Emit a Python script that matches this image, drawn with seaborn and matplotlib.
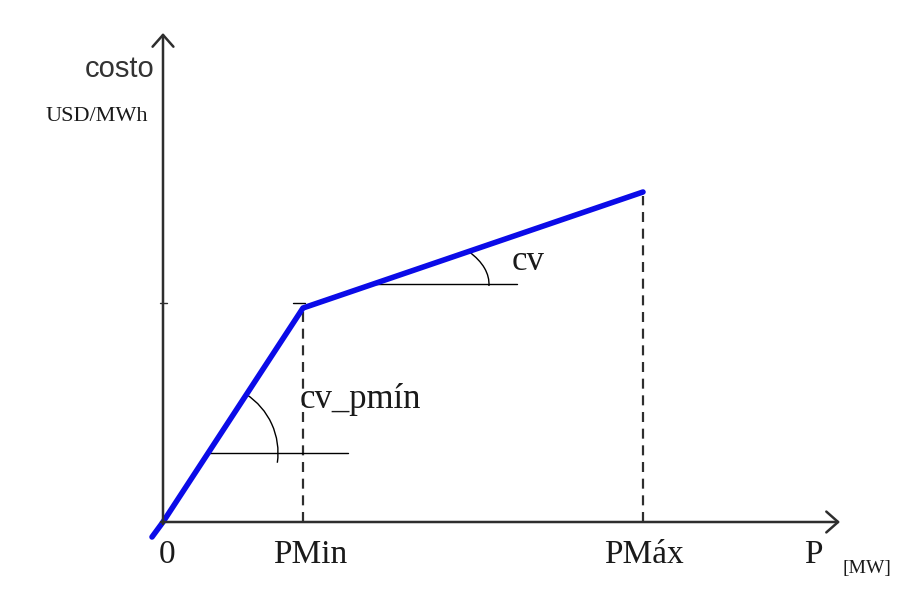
import matplotlib
matplotlib.use("Agg")
import matplotlib.pyplot as plt
from matplotlib.patches import Arc
import seaborn as sns
import pandas as pd

# curva de costo por tramos (unidades del dibujo, origen en el cruce de ejes)
potencia = [-11, 0, 140, 480]
costo = [-15, 0, 214, 330]
p_min = 140
p_max = 480
costo_pmin = 214
costo_pmax = 330

etiquetas_x = ["0", "PMin", "PMáx", "P"]
pos_etiquetas_x = [4, 147, 481, 650]

AZUL = "#0b0be8"
GRIS = "#2e2e2e"
TEXTO = "#1a1a1a"
SERIF = "Liberation Serif"


def draw_axes(ax):
    """Dibuja los ejes con flecha abierta."""
    arrow = dict(arrowstyle="->,head_length=0.85,head_width=0.75", lw=1.8,
                 color=GRIS, shrinkA=0, shrinkB=0)
    ax.annotate("", xy=(0, 489), xytext=(0, -2), arrowprops=arrow)
    ax.annotate("", xy=(677, 0), xytext=(-2, 0), arrowprops=arrow)
    # pequeñas marcas
    ax.plot([-3, 4], [219, 219], color=GRIS, lw=1.0)
    ax.plot([130, 142], [219, 219], color="black", lw=1.0)


def draw_angles(ax):
    """Lineas horizontales y arcos de las pendientes."""
    ax.plot([45, 185], [69, 69], color="black", lw=1.0)
    ax.add_patch(Arc((45, 69), 140, 140, theta1=-8, theta2=57, color="black", lw=1.0))
    ax.plot([212, 354], [238, 238], color="black", lw=1.0)
    ax.add_patch(Arc((212, 238), 228, 114, theta1=-1, theta2=19, color="black", lw=1.0))


fig = plt.figure(figsize=(9.01, 6.0), dpi=100)
sns.set_style("white")
ax = fig.add_axes([0, 0, 1, 1])
ax.set_xlim(-163, 738)
ax.set_ylim(-78, 522)
ax.axis("off")

draw_axes(ax)

# lineas punteadas PMin / PMáx
ax.plot([p_min, p_min], [0, costo_pmin - 4], color=GRIS, lw=1.6, linestyle=(0, (4.5, 3)))
ax.plot([p_max, p_max], [0, costo_pmax - 4], color=GRIS, lw=1.6, linestyle=(0, (4.5, 3)))

draw_angles(ax)

df = pd.DataFrame({"P": potencia, "costo": costo})
sns.lineplot(x="P", y="costo", data=df, sort=False, color=AZUL, lw=4.0, ax=ax,
             solid_capstyle="round")
ax.axis("off")

# textos
for lab, xp in zip(etiquetas_x, pos_etiquetas_x):
    ax.text(xp, -41, lab, ha="center", va="baseline", fontsize=24,
            family=SERIF, color=TEXTO)
ax.text(679, -51, "[MW]", ha="left", va="baseline", fontsize=14, family=SERIF, color=TEXTO)
ax.text(-8, 445, "costo", ha="right", va="baseline", fontsize=21,
        family="Liberation Sans", color="#333333")
ax.text(-15, 401, "USD/MWh", ha="right", va="baseline", fontsize=16, family=SERIF, color=TEXTO)
ax.text(137, 114, "cv_pmín", ha="left", va="baseline", fontsize=25, family=SERIF, color=TEXTO)
ax.text(349, 252, "cv", ha="left", va="baseline", fontsize=25, family=SERIF, color=TEXTO)

fig.savefig("out.png", dpi=100)
plt.close(fig)
